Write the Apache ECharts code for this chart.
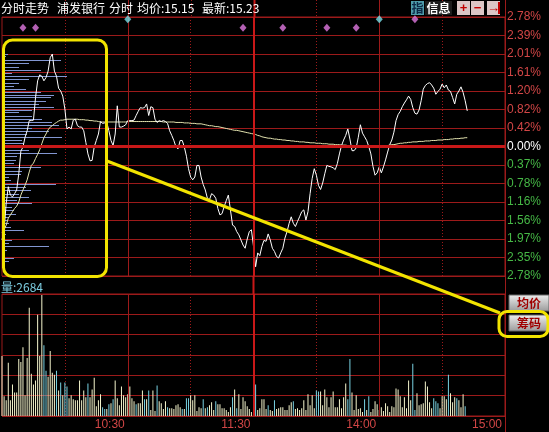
<!DOCTYPE html>
<html><head><meta charset="utf-8">
<script src="https://cdn.jsdelivr.net/npm/echarts/dist/echarts.min.js"></script>
<style>html,body{margin:0;padding:0;background:#000;}#c{width:549px;height:432px;}</style>
</head><body><div id="c"></div>
<script>
// ---------- data ----------
const stockName = '浦发银行';
const avgPriceText = '15.15';
const lastPriceText = '15.23';
const volNow = 2684;

const xTickLabels = ['10:30', '11:30', '14:00', '15:00'];
const xSolidLines = ['10:30', '14:00'];
const xBreakLine = '11:30';
const yLabels = ['2.78%','2.35%','1.97%','1.56%','1.16%','0.78%','0.37%','0.00%','0.42%','0.82%','1.20%','1.61%','2.01%','2.39%','2.78%'];

// price change (%) per minute
const price = [
-2.02,-1.80,-1.23,-0.87,-1.05,-1.09,-1.02,-0.94,-0.59,-0.10,
-0.01,0.20,0.34,0.56,0.56,0.57,1.06,1.42,1.55,1.52,
1.42,1.49,1.63,1.92,2.00,1.63,1.52,1.26,1.20,1.09,
0.81,0.38,0.42,0.38,0.57,0.59,0.45,0.42,0.42,0.34,
0.09,-0.16,-0.31,-0.30,-0.01,0.13,0.27,0.54,0.50,0.51,
0.52,0.34,0.13,0.02,0.27,0.88,0.42,0.42,0.44,0.47,
0.56,0.56,0.56,0.57,0.67,0.76,0.84,0.83,0.84,0.92,
0.67,0.86,0.84,0.59,0.52,0.56,0.54,0.56,0.54,0.50,
0.34,0.24,0.13,-0.01,-0.05,0.13,0.13,-0.01,-0.21,-0.48,
-0.66,-0.72,-0.66,-0.41,-0.41,-0.66,-0.82,-0.94,-1.12,-1.15,
-1.02,-1.05,-1.12,-1.34,-1.48,-1.45,-1.30,-1.17,-1.05,-1.37,
-1.70,-1.73,-1.84,-1.91,-2.02,-2.13,-2.20,-2.00,-1.84,-1.80,
-2.16,-2.60,-2.30,-2.36,-2.16,-2.03,-2.05,-1.89,-2.02,-2.20,
-2.27,-2.38,-2.41,-2.30,-2.20,-1.98,-1.84,-1.66,-1.52,-1.66,
-1.73,-1.62,-1.52,-1.41,-1.37,-1.59,-1.41,-1.02,-0.69,-0.48,
-0.62,-0.84,-0.93,-0.79,-0.59,-0.41,-0.43,-0.44,-0.46,-0.50,
-0.37,-0.16,0.02,0.14,0.24,0.38,0.16,-0.09,-0.09,-0.03,
0.20,0.47,0.29,0.21,0.13,0.00,-0.16,-0.43,-0.62,-0.57,
-0.44,-0.57,-0.44,-0.29,-0.12,0.04,0.14,0.31,0.56,0.69,
0.76,0.86,0.94,1.01,1.09,1.02,0.84,0.72,0.70,0.79,
0.99,1.24,1.32,1.36,1.38,1.33,1.26,1.13,1.19,1.24,
1.35,1.27,1.33,1.22,1.19,1.06,0.92,1.13,1.20,1.29,
1.17,0.99,0.77];

// average price change (%) per minute
const avgLine = [
-1.87,-1.80,-1.70,-1.55,-1.48,-1.41,-1.34,-1.29,-1.20,-1.05,
-0.94,-0.84,-0.72,-0.55,-0.41,-0.36,-0.26,-0.17,-0.07,0.06,
0.19,0.27,0.36,0.42,0.45,0.49,0.52,0.55,0.57,0.57,
0.58,0.59,0.59,0.59,0.59,0.59,0.59,0.58,0.58,0.58,0.57,0.57,0.56,0.56,0.55,0.55,0.54,
0.53,0.53,0.53,0.53,0.53,0.53,0.53,0.53,0.53,0.53,0.53,0.53,0.53,0.54,0.54,0.54,0.54,0.54,0.54,0.54,0.54,0.54,0.54,0.54,
0.54,0.54,0.54,0.54,0.54,0.54,0.53,0.53,0.53,0.53,0.53,0.53,0.52,0.52,0.52,
0.52,0.51,0.51,0.51,0.50,0.50,0.50,0.49,0.49,0.49,
0.48,0.47,0.46,0.45,0.45,0.44,0.43,0.43,0.42,
0.41,0.40,0.39,0.38,0.37,0.36,0.35,0.35,0.34,
0.33,0.32,0.31,0.30,0.29,0.28,0.27,
0.26,0.24,0.23,0.21,0.20,0.19,
0.18,0.18,0.17,0.16,0.16,0.15,0.15,0.14,0.14,0.13,
0.13,0.12,0.12,0.11,0.11,0.10,0.10,0.10,0.09,
0.09,0.08,0.08,0.08,0.07,0.07,0.07,0.06,0.06,0.06,
0.05,0.05,0.05,0.04,0.04,0.04,0.03,0.03,0.03,0.02,0.02,
0.02,0.02,0.01,0.01,0.01,0.01,0.01,0.00,0.00,0.00,0.00,0.00,0.00,0.00,
0.01,0.01,0.02,0.02,0.03,0.04,0.04,0.05,0.06,0.07,
0.07,0.08,0.08,0.09,0.09,0.10,0.10,0.10,0.11,0.11,0.11,0.12,0.12,0.12,0.13,0.13,
0.13,0.14,0.14,0.14,0.15,0.15,0.15,0.16,
0.16,0.17,0.17,0.17,0.18,0.18,0.19,0.19];

// volume per minute
const volume = [
9150,3000,2400,8100,2400,4800,3600,3600,8700,8250,
10500,3150,8850,16500,6450,4800,5400,15450,9150,18450,
10800,6900,6000,9900,6600,6300,6900,3900,5100,3150,
5100,4500,2700,3150,2550,2400,2400,5400,2400,3900,
2850,4950,2850,4050,5850,1500,2400,3300,1350,1050,
1050,1800,1950,2550,5400,2700,1650,4500,3150,2850,
3300,4500,2700,2250,1800,1950,1950,3900,2550,2550,
3900,900,3900,750,4650,2250,1950,1050,2250,1350,
1200,1200,1050,1650,1800,1350,1050,1050,2700,2700,
3150,2400,3150,750,1350,1200,2550,1200,1350,1650,
2100,900,2250,1800,1800,1200,1200,900,600,1350,
2850,4050,1200,3300,1050,2850,2250,1500,1050,600,
450,
4800,900,1200,2550,2550,1050,1650,900,750,2400,
1050,1200,1350,1350,900,900,1650,2100,2250,1050,
1200,900,1200,2400,900,3300,1650,3150,1200,3900,
3750,3750,1650,4050,2850,1350,2850,3750,
1350,1350,2550,1200,2850,4950,2550,8700,3600,900,
3150,1050,1200,600,2550,900,3000,600,1050,2250,
1800,900,1350,750,1950,1500,600,1500,1350,4200,
4050,3000,1350,2850,1200,5400,2400,7950,900,3450,
1650,1800,1950,5250,4500,2100,1200,2700,2250,1950,
1200,3000,3000,2550,6300,3450,2100,2850,2700,2400,
1350,3300,1500];
// minutes whose volume bar is a down-tick
const volDown = [20,21,26,28,30,31,41,48,49,51,53,64,68,70,74,79,86,88,89,96,98,102,110,112,
121,127,130,139,150,151,165,166,173,175,196,197,206,207,208,213,217,221];

// chip (cost) distribution: price level (%) and amount
const chipLevels = [2.00,1.95,1.86,1.80,1.72,1.65,1.58,1.52,1.45,1.38,1.31,1.24,1.17,1.12,1.06,0.99,0.92,0.86,0.79,0.74,
0.67,0.59,0.52,0.47,0.40,0.34,0.27,0.20,0.13,0.07,0.00,-0.07,-0.14,-0.21,-0.29,-0.36,-0.44,-0.52,-0.59,-0.66,
-0.73,-0.80,-0.87,-0.94,-1.02,-1.09,-1.16,-1.23,-1.30,-1.37,-1.45,-1.52,-1.59,-1.66,-1.73,-1.80,-1.89,-2.02,-2.09,-2.15,
-2.23,-2.30,-2.41,-2.48];
const chipAmounts = [6,4,59,27,17,39,10,65,27,17,12,24,39,52,49,44,37,52,30,17,
30,40,50,57,30,47,25,60,20,22,44,27,55,15,14,12,39,20,19,7,
9,54,24,29,17,27,15,30,10,12,14,7,5,7,9,22,4,10,7,47,
5,2,12,7];

// information markers: [minute index, row]
const pinkMarks = [[10,0],[16,0],[115,0],[134,0],[155,0],[169,0],[197,1]];
const cyanMarks = [[60,1],[180,1]];

// ---------- categories ----------
const minutes = [];
function hm(t){const h=Math.floor(t/60),m=t%60;return (h<10?'0':'')+h+':'+(m<10?'0':'')+m;}
for (let m = 0; m <= 120; m++) minutes.push(hm(570 + m));
for (let m = 1; m <= 120; m++) minutes.push(hm(780 + m));

// ---------- style ----------
const GRID = '#9c1a1a';
const BRIGHT = '#c81818';
const RED_T = '#d24646';
const GREEN_T = '#46b846';
const LAT = '"Liberation Sans", Arial, sans-serif';
const CJK = '"Noto Sans CJK SC", sans-serif';
const YEL = '#f2e400';
const rowY = [2.57, 2.75];
const downSet = new Set(volDown);

const chart = echarts.init(document.getElementById('c'), null, {renderer: 'canvas'});

const vLineMarks = () => ({
  silent: true, symbol: ['none', 'none'], label: {show: false}, animation: false,
  data: [
    ...xSolidLines.map(c => ({xAxis: c, lineStyle: {color: GRID, width: 1, type: 'solid'}})),
    {xAxis: xBreakLine, lineStyle: {color: BRIGHT, width: 2, type: 'solid'}}
  ]
});

const dotSplit = {show: true, interval: (i) => i % 60 === 30, lineStyle: {color: GRID, width: 1, type: [1, 2]}};

const option = {
  backgroundColor: '#000',
  animation: false,
  grid: [
    {left: 2, right: 44, top: 17, height: 259, show: true, borderColor: GRID, borderWidth: 1},
    {left: 2, right: 44, top: 294, height: 122, show: true, borderColor: GRID, borderWidth: 1}
  ],
  xAxis: [
    {type: 'category', gridIndex: 0, data: minutes, boundaryGap: false,
     axisLine: {show: false}, axisTick: {show: false}, axisLabel: {show: false}, splitLine: dotSplit},
    {type: 'value', gridIndex: 0, min: 0, max: 503, show: false},
    {type: 'category', gridIndex: 1, data: minutes, boundaryGap: false,
     axisLine: {show: false}, axisTick: {show: false}, splitLine: dotSplit,
     axisLabel: {show: true, interval: (i, v) => xTickLabels.includes(v), align: 'right',
       margin: 3, padding: [0, 3, 0, 0], color: RED_T, fontSize: 12, fontFamily: LAT}}
  ],
  yAxis: [
    {type: 'value', gridIndex: 0, position: 'right', min: -2.8, max: 2.8, interval: 0.4,
     axisLine: {show: false}, axisTick: {show: false},
     axisLabel: {margin: 2, fontSize: 12, fontFamily: LAT,
       formatter: (v) => yLabels[Math.round(v / 0.4) + 7] || '',
       color: (v) => { const k = Math.round(Number(v) / 0.4); return k > 0 ? RED_T : (k < 0 ? GREEN_T : '#ffffff'); }},
     splitLine: {show: true, lineStyle: {color: GRID, width: 1}}},
    {type: 'value', gridIndex: 1, position: 'right', min: 0, max: 18600, interval: 3100,
     axisLine: {show: false}, axisTick: {show: false}, axisLabel: {show: false},
     splitLine: {show: true, lineStyle: {color: GRID, width: 1}}}
  ],
  series: [
    {type: 'line', xAxisIndex: 0, yAxisIndex: 0, data: [], z: 1, silent: true,
     markLine: Object.assign(vLineMarks(), {data: vLineMarks().data.concat([{yAxis: 0, lineStyle: {color: BRIGHT, width: 3, type: 'solid'}}])})},
    {type: 'custom', xAxisIndex: 1, yAxisIndex: 0, z: 2, silent: true,
     data: chipLevels.map((p, k) => [chipAmounts[k], p]),
     encode: {x: 0, y: 1},
     renderItem: (params, api) => {
       const a = api.coord([0, api.value(1)]);
       const b = api.coord([api.value(0), api.value(1)]);
       const y = Math.round(a[1]) + 0.5;
       return {type: 'line', shape: {x1: a[0], y1: y, x2: b[0], y2: y}, style: {stroke: '#8296d2', lineWidth: 1}};
     }},
    {type: 'line', xAxisIndex: 0, yAxisIndex: 0, data: avgLine, symbol: 'none', z: 3, silent: true,
     lineStyle: {color: '#e4e4b0', width: 1}},
    {type: 'line', xAxisIndex: 0, yAxisIndex: 0, data: price, symbol: 'none', z: 4, silent: true,
     lineStyle: {color: '#ffffff', width: 1}},
    {type: 'scatter', xAxisIndex: 0, yAxisIndex: 0, symbol: 'diamond', symbolSize: [7, 8], z: 5, silent: true,
     data: pinkMarks.map(m => [m[0], rowY[m[1]]]), itemStyle: {color: '#e078e0'}},
    {type: 'scatter', xAxisIndex: 0, yAxisIndex: 0, symbol: 'diamond', symbolSize: [7, 8], z: 5, silent: true,
     data: cyanMarks.map(m => [m[0], rowY[m[1]]]), itemStyle: {color: '#78e0e8'}},
    {type: 'line', xAxisIndex: 2, yAxisIndex: 1, data: [], z: 1, silent: true, markLine: vLineMarks()},
    {type: 'bar', xAxisIndex: 2, yAxisIndex: 1, data: volume, barWidth: 1, z: 3, silent: true,
     itemStyle: {color: (p) => downSet.has(p.dataIndex) ? '#78d2e2' : '#f4f4cc'}}
  ]
};
chart.setOption(option);

// ---------- overlay (text, buttons, annotations) ----------
const xs = [30, 60, 90, 120, 150, 180, 210, 240].map(i => chart.convertToPixel({xAxisIndex: 0}, i));
const xBreak = chart.convertToPixel({xAxisIndex: 0}, 120);
const xRight = chart.convertToPixel({xAxisIndex: 0}, 240);
const g = [];
xs.forEach((x, k) => {
  const solid = (k % 2 === 1);
  g.push({type: 'line', z: 0, shape: {x1: Math.round(x) + 0.5, y1: 0, x2: Math.round(x) + 0.5, y2: 17},
    style: {stroke: solid ? (k === 3 ? BRIGHT : GRID) : GRID, lineWidth: k === 3 ? 2 : 1, lineDash: solid ? null : [1, 2]}});
});
g.push({type: 'line', z: 0, shape: {x1: xBreak, y1: 276, x2: xBreak, y2: 294}, style: {stroke: BRIGHT, lineWidth: 2}});
g.push({type: 'line', z: 0, shape: {x1: Math.round(xRight) + 0.5, y1: 0, x2: Math.round(xRight) + 0.5, y2: 432}, style: {stroke: GRID, lineWidth: 1}});

const hdr = (x, t) => ({type: 'text', z: 10, x: x, y: 8, style: {text: t, fill: '#ffffff', font: '12px ' + CJK, align: 'left', verticalAlign: 'middle'}});
g.push(hdr(1, '分时走势'), hdr(57, stockName), hdr(109, '分时'), hdr(137, '均价:' + avgPriceText), hdr(202, '最新:' + lastPriceText));
g.push({type: 'text', z: 10, x: 1, y: 287, style: {text: '量:' + volNow, fill: '#7ccce0', font: '12px ' + CJK, align: 'left', verticalAlign: 'middle'}});

// top-right toolbar
g.push({type: 'rect', z: 10, shape: {x: 411, y: 1, width: 13, height: 14}, style: {fill: '#4f9caa'}});
g.push({type: 'text', z: 11, x: 417.5, y: 8, style: {text: '指', fill: '#0c2846', font: 'bold 12px ' + CJK, align: 'center', verticalAlign: 'middle'}});
g.push({type: 'rect', z: 10, shape: {x: 425, y: 1, width: 27, height: 14}, style: {fill: '#1c1c1c'}});
g.push({type: 'text', z: 11, x: 438.5, y: 8, style: {text: '信息', fill: '#ffffff', font: 'bold 12px ' + CJK, align: 'center', verticalAlign: 'middle'}});
[[457, '+'], [471, '−'], [487, '→']].forEach(([x, t]) => {
  g.push({type: 'rect', z: 10, shape: {x: x, y: 1, width: 13, height: 14}, style: {fill: '#dcc6c6'}});
  g.push({type: 'text', z: 11, x: x + 6.5, y: 8, style: {text: t, fill: '#c00000', font: 'bold 13px ' + LAT, align: 'center', verticalAlign: 'middle'}});
});
g.push({type: 'rect', z: 11, shape: {x: 498, y: 2, width: 2, height: 12}, style: {fill: '#c00000'}});

// buttons
const btnFill = new echarts.graphic.LinearGradient(0, 0, 0, 1, [{offset: 0, color: '#eeeeee'}, {offset: 1, color: '#9a9a9a'}]);
[[295, '均价'], [315, '筹码']].forEach(([y, t]) => {
  g.push({type: 'rect', z: 10, shape: {x: 509, y: y, width: 40, height: 16}, style: {fill: btnFill, stroke: '#666', lineWidth: 1}});
  g.push({type: 'text', z: 11, x: 529, y: y + 8, style: {text: t, fill: '#a00000', font: 'bold 12px ' + CJK, align: 'center', verticalAlign: 'middle'}});
});

// yellow annotations
g.push({type: 'rect', z: 20, shape: {x: 3.5, y: 40, width: 103, height: 236.5, r: 9}, style: {fill: 'none', stroke: YEL, lineWidth: 3}});
g.push({type: 'line', z: 20, shape: {x1: 107, y1: 161, x2: 500, y2: 313}, style: {stroke: YEL, lineWidth: 3}});
g.push({type: 'rect', z: 20, shape: {x: 499, y: 311.5, width: 49, height: 25, r: 8}, style: {fill: 'none', stroke: YEL, lineWidth: 3}});

chart.setOption({graphic: g});
</script></body></html>
